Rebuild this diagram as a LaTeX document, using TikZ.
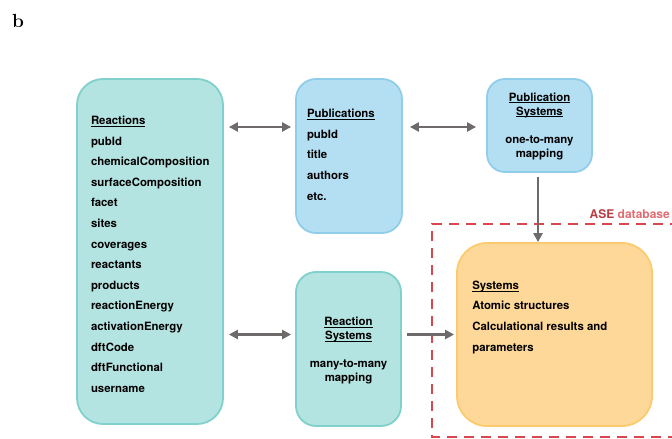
\documentclass[tikz,border=0pt]{standalone}
\usepackage{fontspec}
\newfontfamily\helv{TeX Gyre Heros}
\usetikzlibrary{arrows.meta}

\definecolor{tealfill}{HTML}{B4E4E2}
\definecolor{tealline}{HTML}{80D0CB}
\definecolor{bluefill}{HTML}{B4DFF3}
\definecolor{blueline}{HTML}{90CDEB}
\definecolor{orangefill}{HTML}{FED898}
\definecolor{orangeline}{HTML}{FCCB70}
\definecolor{linkgray}{HTML}{6E6A6A}
\definecolor{aseRed}{HTML}{D8474D}

% underlined table heading, underline kept close to the baseline
\newcommand\hd[1]{\underline{\smash{#1}}}

\tikzset{
  tablebox/.style={rectangle, rounded corners=#1, line width=1.8pt},
  listtext/.style={align=left, inner sep=0pt,
    font=\helv\bfseries\fontsize{11.4}{20.6}\selectfont},
  maptext/.style={align=center, inner sep=0pt,
    font=\helv\bfseries\fontsize{11.4}{14}\selectfont},
  link/.style={line width=2.8pt, draw=linkgray,
    >={Triangle[length=9pt,width=9pt]}},
}

\begin{document}
\begin{tikzpicture}[x=1pt,y=-1pt]
  \useasboundingbox (0,0) rectangle (672,439);
  \node[font=\fontsize{19}{19}\selectfont\bfseries] (panel) at (18,21) {b};

  % tables
  \node[tablebox=26pt, fill=tealfill, draw=tealline,
        minimum width=146pt, minimum height=345pt] (reactions) at (150,251.5) {};
  \node[listtext, text width=118pt] (reactext) at ([yshift=-7pt]reactions.center)
    {\hd{Reactions}\\pubId\\chemicalComposition\\surfaceComposition\\facet\\
     sites\\coverages\\reactants\\products\\reactionEnergy\\activationEnergy\\
     dftCode\\dftFunctional\\username};

  \node[tablebox=20pt, fill=bluefill, draw=blueline,
        minimum width=106pt, minimum height=154pt] (pubs) at (349,156) {};
  \node[listtext, text width=84pt] (pubtext) at ([yshift=-3pt]pubs.center)
    {\hd{Publications}\\pubId\\title\\authors\\etc.};

  \node[tablebox=18pt, fill=bluefill, draw=blueline,
        minimum width=105pt, minimum height=93pt] (pubsys) at (539.5,125.5) {};
  \node[maptext] (pubsystext) at ([yshift=-5pt]pubsys.center)
    {\hd{Publication}\\\hd{Systems}\\[14pt]one-to-many\\mapping};

  \node[tablebox=20pt, fill=tealfill, draw=tealline,
        minimum width=105pt, minimum height=154pt] (rsys) at (348.5,349) {};
  \node[maptext] (rsystext) at ([yshift=-6pt]rsys.center)
    {\hd{Reaction}\\\hd{Systems}\\[14pt]many-to-many\\mapping};

  \node[tablebox=30pt, fill=orangefill, draw=orangeline,
        minimum width=195pt, minimum height=183pt] (systems) at (554.5,334.5) {};
  \node[listtext, anchor=north west] (systext)
    at ([xshift=16pt,yshift=-47pt]systems.north west)
    {\hd{Systems}\\Atomic structures\\Calculational results and\\parameters};

  % ASE database frame
  \draw[aseRed, line width=2.5pt, dash pattern=on 10pt off 7pt]
    (680,224) -- (432,224) -- (432,437) -- (680,437);
  \node[anchor=base east, inner sep=0pt,
        font=\helv\bfseries\fontsize{12}{12}\selectfont]
    (aselabel) at (670,218)
    {\textcolor{aseRed!85!black}{ASE} \textcolor{aseRed!80}{database}};

  % links
  \draw[link,<->, shorten <=5pt, shorten >=4pt]
    ([yshift=-1.5pt]reactions.east |- pubsys.west) -- ([yshift=-1.5pt]pubs.west |- pubsys.west);
  \draw[link,<->, shorten <=7pt, shorten >=10pt]
    ([yshift=-1.5pt]pubs.east |- pubsys.west) -- ([yshift=-1.5pt]pubsys.west);
  \draw[link,<->, shorten <=5pt, shorten >=4pt]
    (reactions.east |- systems.west) -- (rsys.west |- systems.west);
  \draw[link,->, shorten <=5pt, shorten >=2pt]
    (rsys.east |- systems.west) -- (systems.west);
  \draw[link,->, shorten <=4pt]
    ([xshift=-1.5pt]pubsys.south) -- ([xshift=-1.5pt]pubsys.south |- systems.north);
\end{tikzpicture}
\end{document}
